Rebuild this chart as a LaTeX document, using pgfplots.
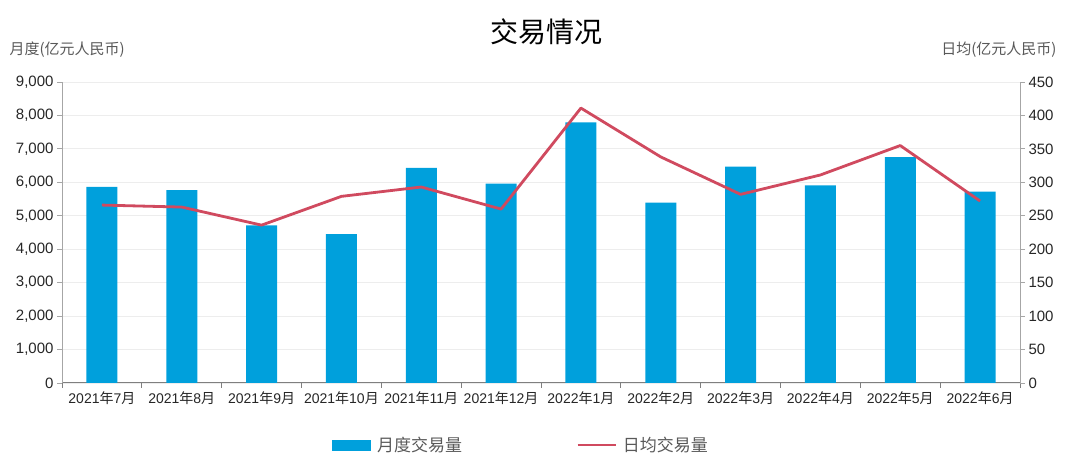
\documentclass[border=0pt]{standalone}
\usepackage{fontspec}
\setmainfont{Liberation Sans}
\newfontfamily\cjk{Noto Sans CJK SC}
\usepackage{pgfplots}
\pgfplotsset{compat=1.18}
\definecolor{barblue}{HTML}{00A0DC}
\definecolor{linered}{HTML}{D04A5F}
\definecolor{gridgray}{HTML}{EDEDED}
\definecolor{axisgray}{HTML}{A6A6A6}
\definecolor{xaxisgray}{HTML}{7F7F7F}
\definecolor{labgray}{HTML}{595959}
\definecolor{tickgray}{HTML}{262626}
\newcommand{\ym}[2]{#1{\cjk 年}#2{\cjk 月}}
\begin{document}
\begin{tikzpicture}[x=1pt,y=1pt]
\useasboundingbox (0,0) rectangle (1080,470);
\begin{axis}[
  at={(62pt,87pt)}, anchor=south west,
  width=958pt, height=301pt, scale only axis,
  xmin=-0.5, xmax=11.5, ymin=0, ymax=9000,
  axis y line*=left, axis x line*=bottom,
  y axis line style={axisgray, line width=0.8pt},
  x axis line style={xaxisgray, line width=1pt},
  ytick={0,1000,...,9000},
  xtick={0,...,11},
  xticklabels={\ym{2021}{7},\ym{2021}{8},\ym{2021}{9},\ym{2021}{10},\ym{2021}{11},\ym{2021}{12},\ym{2022}{1},\ym{2022}{2},\ym{2022}{3},\ym{2022}{4},\ym{2022}{5},\ym{2022}{6}},
  minor xtick={-0.5,0.5,...,11.5},
  major x tick style={draw=none},
  minor x tick style={xaxisgray, line width=1pt},
  major y tick style={axisgray, line width=0.8pt},
  tick align=outside,
  major tick length=5pt, minor tick length=5pt,
  ymajorgrids, grid style={gridgray, line width=0.8pt},
  scaled ticks=false,
  /pgf/number format/.cd, 1000 sep={,}, assume math mode=true,
  /pgfplots/.cd,
  yticklabel style={font=\fontsize{15}{18}\selectfont, text=tickgray},
  xticklabel style={font=\fontsize{14}{16}\selectfont, text=tickgray},
  legend style={at={(0.479,-0.206)}, anchor=center, draw=none, fill=none,
    legend columns=2, font=\cjk\fontsize{17}{20}\selectfont, text=labgray,
    /tikz/every even column/.append style={column sep=112pt}},
]
\addplot[ybar, bar width=31pt, fill=barblue, draw=none, forget plot] coordinates {
(0,5865) (1,5770) (2,4710) (3,4450) (4,6430) (5,5960)
(6,7790) (7,5390) (8,6470) (9,5910) (10,6750) (11,5720)};
\addlegendimage{legend image code/.code={\fill[barblue] (0pt,-5pt) rectangle (38pt,5pt);}}
\addlegendentry{\hspace{5pt}月度交易量}
\addlegendimage{legend image code/.code={\draw[linered,line width=2.8pt] (0pt,0pt) -- (38pt,0pt);}}
\addlegendentry{\hspace{4pt}日均交易量}
\end{axis}
\begin{axis}[
  at={(62pt,87pt)}, anchor=south west,
  width=958pt, height=301pt, scale only axis,
  xmin=-0.5, xmax=11.5, ymin=0, ymax=450,
  axis y line*=right, axis x line=none,
  y axis line style={axisgray, line width=0.8pt},
  ytick={0,50,...,450},
  major y tick style={axisgray, line width=0.8pt},
  tick align=outside, major tick length=5pt,
  /pgf/number format/assume math mode=true,
  yticklabel style={font=\fontsize{15}{18}\selectfont, text=tickgray},
]
\addplot[linered, line width=2.8pt, line join=round, mark=none] coordinates {
(0,266) (1,263) (2,236) (3,279) (4,293) (5,260)
(6,411) (7,338) (8,282) (9,311) (10,355) (11,272)};
\end{axis}
\node[font=\cjk\fontsize{28}{32}\selectfont, text=black] at (546,438) {交易情况};
\node[anchor=west, font=\cjk\fontsize{15}{18}\selectfont, text=labgray] at (6,420) {月度(亿元人民币)};
\node[anchor=east, font=\cjk\fontsize{15}{18}\selectfont, text=labgray] at (1060,420) {日均(亿元人民币)};
\end{tikzpicture}
\end{document}
